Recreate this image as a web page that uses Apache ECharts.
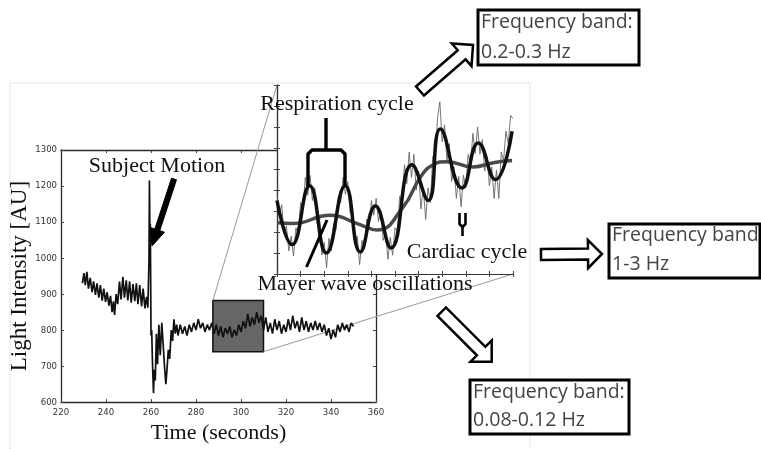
<!DOCTYPE html>
<html>
<head>
<meta charset="utf-8">
<script src="https://cdn.jsdelivr.net/npm/echarts@6.0.0/dist/echarts.min.js"></script>
<style>
  html, body { margin: 0; padding: 0; background: #fff; }
  #chart { width: 761px; height: 449px; }
</style>
</head>
<body>
<div id="chart"></div>
<script>
// ---- Light intensity recording (time in seconds, intensity in AU) ----
const traceTime = [
  229.5, 230.2, 230.8, 231.5, 232.2, 233, 233.8, 234.5, 235.3, 236, 236.8, 237.5, 238.3, 239, 239.8,
  240.5, 241.3, 242, 242.7, 243.3, 243.8, 244.5, 245.2, 246, 246.7, 247.5, 248.2, 249, 249.7, 250.5,
  251.2, 252, 252.8, 253.5, 254.2, 255, 255.8, 256.5, 257.3, 258, 258.6, 259.1, 259.3, 259.5, 259.7,
  260, 260.3, 260.7, 261.1, 261.5, 261.9, 262.4, 262.9, 263.5, 264.1, 264.8, 265.4, 266, 266.6, 267.1,
  267.7, 268.3, 269, 269.6, 270.2, 270.8, 271.4, 272,
  273, 274, 275, 276, 277, 278, 279, 280, 281, 282, 283, 284, 285, 286, 287, 288, 289, 290,
  291, 292, 293, 294, 295, 296, 297, 298, 299, 300, 301, 302, 303, 304, 305, 306, 307, 308,
  309, 310, 311, 312, 313, 314, 315, 316, 317, 318, 319, 320, 321, 322, 323, 324, 325, 326,
  327, 328, 329, 330, 331, 332, 333, 334, 335, 336, 337, 338, 339, 340, 341, 342, 343, 344,
  345, 346, 347, 348, 349, 350
];
const traceValue = [
  930, 958, 925, 962, 915, 945, 905, 935, 898, 930, 890, 925, 882, 915, 878,
  905, 868, 895, 850, 880, 842, 900, 872, 935, 885, 948, 890, 938, 882, 935,
  876, 928, 880, 930, 872, 925, 866, 915, 860, 892, 862, 990, 1215, 1080, 1095,
  785, 800, 700, 625, 690, 660, 790, 705, 815, 730, 820, 760, 700, 650, 690,
  745, 720, 800, 770, 830, 790, 815, 785,
  815, 790, 810, 785, 815, 795, 820, 800, 830, 805, 820, 795, 815, 800, 820, 790, 815, 785,
  810, 780, 805, 790, 810, 780, 800, 785, 815, 795, 825, 805, 845, 810, 835, 815, 850, 820,
  840, 800, 835, 795, 820, 790, 830, 800, 825, 790, 815, 795, 830, 800, 840, 805, 825, 795,
  835, 800, 825, 795, 820, 800, 825, 800, 820, 795, 815, 785, 805, 775, 800, 780, 815, 795,
  820, 800, 815, 795, 820, 810
];

// Enlarged window (seconds / AU)
const zoomTime = [287.5, 310];
const zoomValue = [740, 882];

// Main axes
const timeRange = [220, 360];
const timeStep = 20;
const intensityRange = [600, 1300];
const intensityStep = 100;

// ---- Enlarged segment (relative units) ----
const insetXRange = [0, 10];
const insetYRange = [0, 9];
// raw signal sampled every 0.1 units
const rawStep = 0.1;
const rawSignal = [
  3.8, 2.8, 3.3, 1.9, 2.3, 1.1, 1.8, 0.85, 2.2, 1.9,
  3.4, 3.1, 4.6, 3.75, 4.7, 3.5, 4.1, 2.4, 2.8, 0.9,
  1.5, 0.3, 1.7, 1.1, 2.4, 2.1, 3.7, 3.4, 4.6, 3.8,
  4.4, 2.9, 3.1, 1.4, 1.8, 0.45, 1.6, 1.2, 2.6, 2.2,
  3.5, 2.8, 3.6, 2.5, 3.0, 1.6, 2.0, 0.7, 1.75, 0.9,
  2.2, 2.0, 3.7, 3.2, 5.2, 4.3, 5.8, 4.6, 5.7, 4.0,
  4.9, 3.1, 4.1, 2.6, 4.1, 3.4, 5.6, 5.4, 7.4, 8.2,
  6.3, 7.1, 5.4, 6.2, 4.4, 5.1, 3.6, 4.65, 3.2, 4.7,
  4.1, 5.7, 5.2, 6.7, 5.75, 7.0, 5.7, 6.4, 4.9, 5.6,
  4.2, 5.1, 3.6, 4.95, 3.6, 5.8, 5.4, 6.8, 6.2, 7.55,
  7.4
];
// respiration component (turning points)
const respX = [0, 0.64, 1.38, 2.09, 2.89, 3.53, 4.17, 4.83, 5.72, 6.41, 6.92, 7.84, 8.53, 9.25, 9.96];
const respY = [3.5, 1.4, 4.2, 1.0, 4.2, 1.05, 3.24, 1.24, 5.2, 3.5, 6.9, 4.1, 6.24, 4.5, 6.8];
// Mayer wave component
const mayerX = [0, 0.7, 2.26, 3.4, 4.24, 5.35, 6.07, 6.62, 7.2, 8.32, 9.17, 9.96];
const mayerY = [2.44, 2.41, 2.8, 2.4, 2.1, 3.2, 4.6, 5.2, 5.35, 5.1, 5.3, 5.4];

const serif = "'Liberation Serif', 'Times New Roman', serif";
const narrow = "'Liberation Sans Narrow', 'DejaVu Sans Condensed', sans-serif";
const sans = "'Open Sans', 'Liberation Sans', sans-serif";

const zip = (xs, ys) => xs.map((x, i) => [x, ys[i]]);

const chart = echarts.init(document.getElementById('chart'), null, { renderer: 'canvas' });

const mainAxisLine = { show: true, lineStyle: { color: '#2a2a2a', width: 1.3 } };
const insetAxisLine = { show: true, lineStyle: { color: '#333', width: 1.2 } };

function frameAxis(grid, pos, range, step, line, z) {
  return {
    type: 'value', gridIndex: grid, position: pos,
    min: range[0], max: range[1], interval: step,
    axisLine: line,
    axisTick: { show: true, inside: true, length: 3, lineStyle: { color: '#444', width: 1 } },
    axisLabel: { show: false },
    splitLine: { show: false },
    z: z
  };
}

const option = {
  animation: false,
  backgroundColor: '#fff',
  grid: [
    { left: 61, top: 150, width: 315, height: 256, show: false },
    { left: 277, top: 85, width: 236, height: 189, show: true, backgroundColor: '#fff', borderWidth: 0, z: 1 }
  ],
  xAxis: [
    {
      type: 'value', gridIndex: 0, position: 'bottom',
      min: timeRange[0], max: timeRange[1], interval: timeStep,
      axisLine: mainAxisLine,
      axisTick: { show: true, inside: true, length: 3, lineStyle: { color: '#444' } },
      axisLabel: { fontFamily: narrow, fontSize: 9.5, color: '#333', margin: 5, formatter: v => String(v) },
      splitLine: { show: false },
      name: 'Time (seconds)', nameLocation: 'middle', nameGap: 17,
      nameTextStyle: { fontFamily: serif, fontSize: 22, color: '#111' }
    },
    frameAxis(0, 'top', timeRange, timeStep, mainAxisLine, 0),
    frameAxis(1, 'bottom', insetXRange, 1, insetAxisLine, 3),
    frameAxis(1, 'top', insetXRange, 1, insetAxisLine, 3)
  ],
  yAxis: [
    {
      type: 'value', gridIndex: 0, position: 'left',
      min: intensityRange[0], max: intensityRange[1], interval: intensityStep,
      axisLine: mainAxisLine,
      axisTick: { show: true, inside: true, length: 3, lineStyle: { color: '#444' } },
      axisLabel: { fontFamily: narrow, fontSize: 9.5, color: '#333', margin: 4, formatter: v => String(v) },
      splitLine: { show: false },
      name: 'Light Intensity [AU]', nameLocation: 'middle', nameGap: 25,
      nameTextStyle: { fontFamily: serif, fontSize: 23, color: '#111' }
    },
    frameAxis(0, 'right', intensityRange, intensityStep, mainAxisLine, 0),
    frameAxis(1, 'left', insetYRange, 1, insetAxisLine, 3),
    frameAxis(1, 'right', insetYRange, 1, insetAxisLine, 3)
  ],
  series: [
    {
      // shaded window that is enlarged in the inset
      type: 'custom', xAxisIndex: 0, yAxisIndex: 0, z: 1,
      data: [[zoomTime[0], zoomValue[1], zoomTime[1], zoomValue[0]]],
      renderItem: function (params, api) {
        const a = api.coord([api.value(0), api.value(1)]);
        const b = api.coord([api.value(2), api.value(3)]);
        return {
          type: 'rect',
          shape: { x: a[0], y: a[1], width: b[0] - a[0], height: b[1] - a[1] },
          style: { fill: '#666', stroke: '#111', lineWidth: 1.5 }
        };
      }
    },
    {
      type: 'line', xAxisIndex: 0, yAxisIndex: 0, z: 2,
      data: zip(traceTime, traceValue),
      showSymbol: false,
      lineStyle: { color: '#111', width: 1.7 }
    },
    {
      type: 'line', xAxisIndex: 2, yAxisIndex: 2, z: 4,
      data: rawSignal.map((v, i) => [i * rawStep, v]),
      showSymbol: false,
      lineStyle: { color: '#666', width: 0.9 }
    },
    {
      type: 'line', xAxisIndex: 2, yAxisIndex: 2, z: 5,
      data: zip(mayerX, mayerY),
      smooth: 0.5, showSymbol: false,
      lineStyle: { color: '#4a4a4a', width: 3.5 }
    },
    {
      type: 'line', xAxisIndex: 2, yAxisIndex: 2, z: 6,
      data: zip(respX, respY),
      smooth: 0.5, showSymbol: false,
      lineStyle: { color: '#111', width: 3.5 }
    }
  ]
};

chart.setOption(option);

// ---- annotations ----
function blockArrow(tail, tip, shaftHalf, headHalf, headLen) {
  const dx = tip[0] - tail[0], dy = tip[1] - tail[1];
  const len = Math.hypot(dx, dy);
  const ux = dx / len, uy = dy / len, nx = -uy, ny = ux;
  const bx = tip[0] - ux * headLen, by = tip[1] - uy * headLen;
  return [
    [tail[0] + nx * shaftHalf, tail[1] + ny * shaftHalf],
    [bx + nx * shaftHalf, by + ny * shaftHalf],
    [bx + nx * headHalf, by + ny * headHalf],
    [tip[0], tip[1]],
    [bx - nx * headHalf, by - ny * headHalf],
    [bx - nx * shaftHalf, by - ny * shaftHalf],
    [tail[0] - nx * shaftHalf, tail[1] - ny * shaftHalf]
  ];
}

function label(text, x, y, size, family, color, align) {
  return {
    type: 'text', z: 20,
    style: {
      text: text, x: x, y: y, fontSize: size, fontFamily: family,
      fill: color, align: align || 'center', verticalAlign: 'middle'
    }
  };
}

function stroke(points, width) {
  return { type: 'polyline', z: 20, shape: { points: points },
           style: { fill: 'none', stroke: '#000', lineWidth: width, lineJoin: 'round' } };
}

function bandBox(x, y, w, h, line1, line2, tx, y1, y2) {
  return [
    { type: 'rect', z: 20, shape: { x: x, y: y, width: w, height: h },
      style: { fill: '#fff', stroke: '#000', lineWidth: 3 } },
    label(line1, tx, y1, 19.5, sans, '#444', 'left'),
    label(line2, tx, y2, 19.5, sans, '#444', 'left')
  ];
}

const winTopLeft = chart.convertToPixel({ gridIndex: 0 }, [zoomTime[0], zoomValue[1]]);
const winBotRight = chart.convertToPixel({ gridIndex: 0 }, [zoomTime[1], zoomValue[0]]);
const insetTopLeft = chart.convertToPixel({ gridIndex: 1 }, [insetXRange[0], insetYRange[1]]);
const insetBotRight = chart.convertToPixel({ gridIndex: 1 }, [insetXRange[1], insetYRange[0]]);

const hollow = { fill: '#fff', stroke: '#000', lineWidth: 2.5, lineJoin: 'miter' };

const graphics = [
  // figure border
  { type: 'rect', z: -1, shape: { x: 10, y: 83, width: 520, height: 380 },
    style: { fill: 'none', stroke: '#cfcfcf', lineWidth: 1, lineDash: [1, 1] } },
  // zoom connectors
  { type: 'line', z: 1, shape: { x1: winTopLeft[0], y1: winTopLeft[1], x2: insetTopLeft[0], y2: insetTopLeft[1] },
    style: { stroke: '#9a9a9a', lineWidth: 1 } },
  { type: 'line', z: 1, shape: { x1: winBotRight[0], y1: winBotRight[1], x2: insetBotRight[0], y2: insetBotRight[1] },
    style: { stroke: '#9a9a9a', lineWidth: 1 } },

  // subject motion
  label('Subject Motion', 157, 166, 22, serif, '#111'),
  { type: 'polygon', z: 20, shape: { points: blockArrow([174, 179], [152, 246], 2.6, 7.5, 17) },
    style: { fill: '#000', stroke: '#000', lineWidth: 1 } },

  // respiration bracket
  label('Respiration cycle', 337, 104, 22, serif, '#111'),
  stroke([[326, 118], [326, 150]], 3.4),
  stroke([[308, 186], [308, 154], [312, 150], [341, 150], [345, 154], [345, 186]], 3.4),

  // cardiac marker
  label('Cardiac cycle', 467, 252, 22, serif, '#111'),
  stroke([[459.5, 213], [459.5, 224], [462.5, 227], [465.5, 224], [465.5, 213]], 2.6),
  stroke([[462.5, 227], [462.5, 236]], 2.6),

  // Mayer wave pointer
  label('Mayer wave oscillations', 365, 284, 22, serif, '#111'),
  stroke([[306.5, 267], [327, 220]], 3),

  // hollow arrows to the band boxes
  { type: 'polygon', z: 20, shape: { points: blockArrow([420, 91], [473, 45], 6, 15, 15) }, style: hollow },
  { type: 'polygon', z: 20, shape: { points: blockArrow([541, 254.5], [602, 254], 5.5, 14, 14) }, style: hollow },
  { type: 'polygon', z: 20, shape: { points: blockArrow([441.7, 311.7], [491.7, 361.7], 6, 15, 15) }, style: hollow }
]
  .concat(bandBox(478, 10, 161, 55, 'Frequency band:', '0.2-0.3 Hz', 481, 22, 52))
  .concat(bandBox(609, 224, 151, 54, 'Frequency band', '1-3 Hz', 612, 235, 264))
  .concat(bandBox(470, 380, 159, 54, 'Frequency band:', '0.08-0.12 Hz', 473, 392, 420));

chart.setOption({ graphic: graphics });
</script>
</body>
</html>
